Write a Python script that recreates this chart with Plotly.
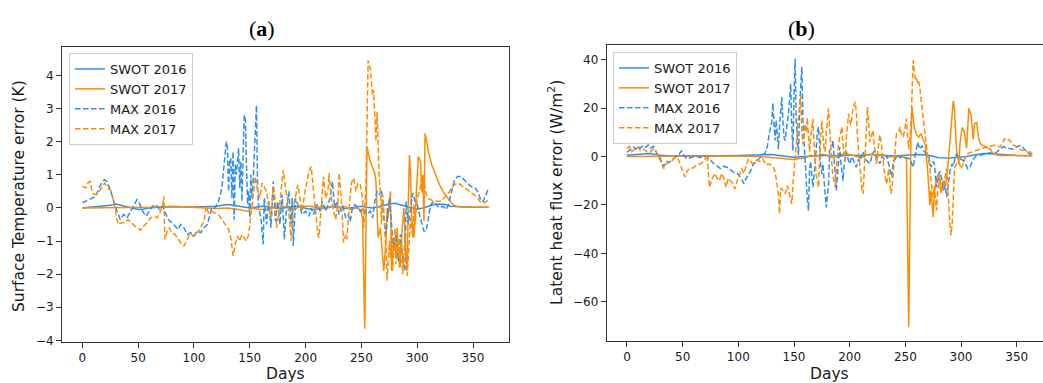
import plotly.graph_objects as go

# ---------------- data: (day, value) ----------------
# Panel (a): surface temperature error (K)
A_SWOT16 = [(0,0.0),(10,0.03),(20,0.05),(25,0.08),(30,0.12),(35,0.08),(40,0.03),(45,-0.02),(50,-0.05),(55,-0.03),
            (60,0.0),(70,0.03),(80,0.04),(90,0.03),(100,0.03),(110,0.04),(120,0.05),(125,0.08),(130,0.1),(135,0.08),
            (140,0.05),(145,0.03),(150,0.0),(155,0.02),(160,0.05),(165,0.04),(170,0.02),(175,-0.02),(180,0.0),(185,0.03),
            (190,0.05),(195,0.03),(200,-0.02),(205,-0.05),(210,-0.03),(215,0.0),(220,0.03),(225,0.05),(230,0.02),(235,-0.02),
            (240,0.0),(245,0.03),(250,0.05),(255,0.02),(260,0.0),(265,0.03),(270,0.08),(275,0.12),(280,0.14),(285,0.1),
            (290,0.05),(295,0.0),(300,-0.04),(305,0.0),(310,0.05),(315,0.1),(320,0.12),(325,0.1),(330,0.05),(340,0.03),
            (350,0.02),(364,0.02)]
A_SWOT17 = [(0,0.0),(20,0.0),(40,0.01),(60,0.02),(80,0.05),(90,0.04),(100,0.02),(110,0.0),(120,-0.02),(130,0.0),
            (140,-0.05),(148,-0.1),(152,0.0),(158,-0.05),(165,-0.05),(170,0.02),(175,0.0),(180,0.05),(185,0.0),(190,-0.05),
            (195,0.05),(200,0.05),(205,0.05),(210,0.0),(215,0.05),(220,0.0),(225,0.05),(230,0.0),(235,0.05),(240,-0.05),
            (245,0.0),(249,-0.05),(251,-0.3),(253,-3.65),(255,1.85),(258,1.4),(262,1.05),(263,0.8),(265,-0.9),(267,-0.6),
            (270,-1.9),(272,-1.0),(273,0.0),(274,-0.3),(276,0.5),(277,-1.9),(279,-0.9),(281,-1.5),(282,-0.6),(284,-1.8),
            (286,-0.8),(288,0.0),(290,-1.5),(291,-1.8),(292,0.2),(293,1.6),(294,1.0),(295,-0.3),(297,-0.9),(299,0.5),
            (301,1.55),(303,1.4),(304,0.5),(305,1.0),(306,-0.4),(307,2.25),(310,1.7),(313,1.3),(317,0.95),(320,0.7),
            (323,0.5),(326,0.35),(329,0.22),(332,0.1),(335,0.05),(340,0.03),(350,0.02),(364,0.02)]
A_MAX16 = [(0,0.15),(4,0.22),(8,0.3),(12,0.35),(15,0.6),(18,0.8),(20,0.85),(22,0.8),(25,0.55),(28,0.2),
           (31,-0.1),(34,-0.35),(37,-0.2),(40,-0.3),(43,-0.1),(46,0.05),(49,0.25),(51,0.15),(54,-0.1),(57,-0.25),
           (60,-0.1),(63,0.05),(66,0.1),(69,-0.05),(72,0.05),(74,-0.1),(77,-0.35),(80,-0.45),(83,-0.55),(86,-0.65),
           (88,-0.5),(91,-0.6),(94,-0.8),(97,-0.75),(100,-0.85),(103,-0.7),(106,-0.75),(109,-0.6),(112,-0.5),(114,-0.2),
           (116,0.0),(119,0.0),(122,0.2),(125,0.6),(127,1.2),(129,2.0),(130,1.8),(131,0.5),(132,1.4),(133,1.5),
           (134,0.3),(135,1.7),(136,-0.35),(137,1.3),(138,1.0),(139,1.5),(140,1.8),(141,0.6),(142,1.4),(143,0.2),
           (144,1.5),(145,2.8),(146,2.7),(147,1.0),(148,0.1),(149,0.5),(150,-0.3),(151,1.0),(152,0.3),(153,0.8),
           (154,1.6),(155,2.6),(156,3.1),(157,0.6),(158,0.0),(160,-0.3),(162,-1.1),(163,0.3),(165,-0.5),(167,0.2),
           (169,-0.6),(171,0.8),(173,-0.4),(175,0.2),(177,-0.5),(179,0.4),(181,-0.95),(183,0.0),(185,0.5),(187,-0.5),
           (188,0.3),(189,-1.15),(191,0.3),(193,0.1),(195,0.0),(197,-0.2),(200,-0.1),(203,-0.25),(205,0.0),(207,-0.2),
           (210,0.1),(213,-0.1),(215,0.2),(218,-0.1),(220,0.1),(222,0.3),(224,0.8),(226,0.0),(228,0.2),(230,-0.2),
           (233,0.1),(236,-0.3),(238,-0.2),(240,-0.4),(242,0.0),(244,0.1),(246,0.05),(249,-0.1),(252,0.0),(255,-0.2),
           (258,-0.1),(260,-0.3),(262,0.2),(264,0.5),(266,0.4),(268,0.55),(270,-0.3),(272,-0.8),(274,0.0),(275,0.3),
           (277,-0.5),(279,-1.3),(281,-0.8),(283,-1.6),(285,-0.8),(287,-1.5),(289,-1.9),(290,0.2),(292,-0.5),(294,0.0),
           (296,0.45),(298,0.2),(300,0.1),(302,-0.2),(304,-0.5),(306,-0.7),(308,-0.7),(310,-0.3),(312,0.1),(315,0.2),
           (317,0.1),(320,0.0),(323,0.05),(326,-0.05),(328,0.1),(330,0.4),(333,0.8),(336,0.95),(339,0.95),(342,0.85),
           (345,0.75),(348,0.65),(352,0.6),(355,0.45),(357,0.2),(359,0.2),(361,0.35),(364,0.6)]
A_MAX17 = [(0,0.65),(3,0.6),(5,0.75),(7,0.8),(9,0.45),(12,0.4),(14,0.45),(17,0.6),(20,0.75),(23,0.6),
           (26,0.5),(29,0.05),(32,-0.5),(35,-0.45),(38,-0.45),(41,-0.35),(44,-0.45),(47,-0.55),(50,-0.6),(52,-0.68),
           (55,-0.55),(58,-0.45),(61,-0.3),(64,-0.25),(67,-0.3),(70,-0.1),(72,0.1),(73,0.35),(74,-0.95),(76,-0.7),
           (78,-0.6),(80,-0.75),(83,-0.8),(86,-0.95),(89,-1.1),(91,-1.15),(94,-0.95),(97,-0.75),(99,-0.85),(101,-0.8),
           (104,-0.7),(106,-0.6),(109,-0.4),(111,0.05),(113,-0.15),(116,-0.1),(119,-0.15),(122,-0.2),(125,-0.35),(128,-0.5),
           (131,-0.65),(133,-0.9),(135,-1.45),(137,-1.1),(139,-0.85),(141,-1.0),(143,-0.8),(145,-0.9),(147,-1.0),(149,-0.8),
           (151,-0.2),(153,0.5),(155,0.95),(157,0.5),(159,0.3),(161,0.75),(163,0.6),(165,0.5),(167,0.0),(169,-0.3),
           (171,0.65),(173,0.2),(174,-0.6),(176,-0.15),(178,0.5),(180,1.15),(182,0.6),(184,0.2),(186,-0.55),(187,-1.0),
           (189,0.0),(191,0.4),(193,0.7),(195,0.3),(197,-0.1),(199,0.4),(201,0.7),(203,1.1),(205,1.25),(207,0.6),
           (209,0.0),(211,-0.8),(212,-0.9),(214,0.0),(216,0.95),(218,0.3),(220,0.5),(221,1.05),(223,0.3),(225,-0.1),
           (227,-0.35),(229,0.2),(230,1.05),(232,0.3),(233,-0.7),(234,-1.05),(236,-0.8),(237,-0.95),(239,0.0),(241,0.75),
           (243,0.9),(245,0.5),(247,0.75),(249,0.7),(251,0.3),(252,-0.6),(254,0.6),(255,2.5),(256,4.45),(258,4.2),
           (259,3.6),(260,3.4),(261,3.55),(262,2.6),(263,2.0),(264,2.9),(265,1.8),(266,0.9),(267,0.5),(268,-0.5),
           (269,0.4),(270,0.0),(271,-0.8),(272,-1.2),(273,-2.2),(275,-1.0),(276,-1.5),(277,-0.7),(278,-1.9),(279,-1.2),
           (280,-0.6),(281,-1.7),(282,-1.0),(283,-1.5),(284,-0.9),(285,-1.8),(286,-1.0),(287,-2.0),(288,-1.3),(289,-0.8),
           (290,-1.7),(291,-2.05),(292,-1.5),(293,-1.0),(294,-0.3),(295,-0.6),(296,-0.9),(297,0.1),(298,-0.5),(300,0.3),
           (302,0.5),(304,0.9),(306,1.0),(307,0.6),(309,0.3),(312,0.25),(315,0.2),(318,0.2),(321,0.2),(324,0.3),
           (327,0.4),(330,0.55),(333,0.7),(336,0.75),(339,0.7),(342,0.6),(345,0.55),(348,0.45),(351,0.4),(354,0.3),
           (357,0.15),(360,0.15),(362,0.2),(364,0.25)]

# Panel (b): latent heat flux error (W/m2)
B_SWOT16 = [(0,0.5),(10,1.0),(20,1.2),(30,0.5),(40,0.2),(50,0.3),(60,0.2),(80,0.3),(100,0.4),(120,0.6),
            (130,0.8),(140,0.2),(150,-0.3),(160,0.0),(170,0.3),(180,0.5),(190,0.2),(200,0.6),(210,0.3),(220,0.8),
            (230,0.5),(240,0.2),(250,0.5),(260,0.8),(270,0.6),(280,-0.5),(290,-0.6),(300,-0.3),(305,0.0),(310,0.5),
            (320,1.2),(330,1.0),(340,0.6),(350,0.4),(364,0.3)]
B_SWOT17 = [(0,0.0),(20,0.1),(40,0.0),(60,0.2),(80,0.3),(100,0.2),(120,0.0),(130,-0.5),(140,-1.0),(150,-1.2),
            (155,-0.8),(160,-0.5),(165,0.5),(170,0.0),(175,1.0),(180,0.5),(185,-0.5),(190,0.5),(195,1.2),(200,0.8),
            (205,0.0),(210,-0.5),(215,0.5),(220,1.0),(225,0.2),(230,0.5),(235,-0.3),(240,0.0),(245,0.2),(248,0.0),
            (251,-1.0),(253,-70.5),(255,8.0),(256,20.5),(258,12.0),(260,9.0),(262,8.0),(264,9.5),(266,6.5),(268,4.5),
            (270,-5.5),(272,-20.0),(273,-14.0),(275,-25.0),(276,-15.0),(278,-9.0),(280,-7.0),(282,-15.0),(284,-10.0),(286,-12.0),
            (288,-5.0),(290,6.5),(292,20.0),(293,23.0),(294,20.0),(296,2.0),(298,-3.0),(299,5.0),(301,12.0),(303,10.0),
            (305,3.5),(307,20.0),(309,17.0),(311,7.0),(312,13.5),(314,14.0),(316,7.0),(318,5.0),(320,4.5),(323,4.0),
            (326,3.2),(329,1.2),(332,0.6),(335,0.4),(345,0.4),(355,0.4),(364,0.4)]
B_MAX16 = [(0,1.8),(3,3.0),(6,3.9),(8,3.0),(10,4.2),(12,3.5),(15,4.6),(17,3.8),(19,4.8),(21,3.5),
           (24,4.2),(27,1.2),(30,-0.9),(33,-4.1),(36,-2.0),(38,-2.5),(40,-1.5),(43,-0.5),(46,0.5),(49,2.3),
           (51,0.5),(54,-1.0),(57,-0.5),(60,0.0),(63,0.0),(66,-0.5),(69,0.2),(72,-0.3),(75,-1.5),(78,-3.0),
           (81,-4.0),(84,-5.0),(87,-4.0),(90,-4.5),(93,-5.5),(96,-6.5),(99,-7.0),(101,-8.0),(103,-9.5),(105,-11.2),
           (107,-9.0),(109,-7.7),(111,-6.0),(113,-3.6),(115,-2.5),(117,-1.5),(120,-0.3),(122,1.0),(124,1.2),(126,4.0),
           (128,10.0),(130,14.0),(131,22.0),(132,12.0),(133,6.6),(134,15.0),(135,8.0),(136,3.0),(137,12.0),(138,17.6),
           (139,24.5),(140,15.0),(141,8.0),(142,6.6),(143,12.0),(144,14.0),(145,17.6),(146,25.0),(147,30.0),(148,12.0),
           (149,2.5),(150,25.0),(151,40.5),(152,15.0),(153,8.0),(154,0.5),(155,20.0),(156,30.0),(157,37.0),(158,15.0),
           (159,5.0),(160,-1.6),(161,-10.0),(162,-18.0),(163,-22.3),(164,-5.0),(165,-2.0),(166,-8.0),(167,-12.7),(169,-3.0),
           (170,5.0),(171,10.0),(172,12.2),(173,2.0),(174,-4.0),(175,-7.2),(176,-3.0),(177,-10.0),(178,-15.0),(179,-21.0),
           (180,-16.0),(181,-12.0),(182,2.5),(184,4.0),(185,6.6),(186,0.0),(187,-8.0),(188,-14.0),(189,-8.0),(190,-3.0),
           (191,3.9),(192,-2.0),(193,-8.0),(194,-10.0),(195,-4.0),(197,2.0),(199,-2.0),(200,-3.0),(202,0.0),(203,-1.0),
           (205,-3.0),(206,-4.4),(208,-1.0),(209,-2.0),(211,1.0),(212,2.0),(214,-1.0),(216,-2.0),(218,-3.0),(220,0.0),
           (222,2.5),(224,0.0),(226,-2.0),(227,-3.0),(229,0.0),(231,-1.0),(233,0.5),(235,-3.0),(237,-7.5),(238,-8.5),
           (239,-2.0),(241,-1.0),(243,0.5),(245,-0.5),(248,0.0),(251,-0.5),(254,-1.0),(257,-4.4),(259,0.0),(261,5.9),
           (263,3.0),(265,4.5),(267,2.0),(269,1.0),(271,0.0),(273,-4.4),(275,-2.0),(276,-3.0),(278,-12.7),(280,-8.0),
           (281,-6.0),(283,-10.0),(284,-14.0),(286,-12.0),(287,-16.8),(289,-10.0),(290,-6.0),(292,-3.0),(293,-4.0),(295,0.0),
           (296,1.0),(298,-0.5),(300,-1.0),(302,-1.7),(304,-3.0),(306,-5.0),(308,-4.5),(310,-2.0),(312,-0.5),(314,0.4),
           (317,0.5),(320,0.8),(323,1.1),(326,1.5),(329,1.2),(332,1.8),(335,3.0),(338,4.1),(341,3.5),(344,3.2),
           (347,3.0),(350,3.9),(352,4.5),(354,4.6),(356,3.5),(358,2.5),(360,1.5),(362,1.0),(364,1.5)]
B_MAX17 = [(0,3.2),(2,4.2),(4,2.0),(6,2.5),(8,3.5),(10,3.9),(12,2.5),(15,3.0),(18,2.0),(21,1.8),
           (23,3.0),(25,3.2),(28,0.4),(31,-3.0),(33,-5.0),(35,-3.0),(38,-2.5),(41,-1.5),(43,-0.3),(46,-1.0),
           (48,-3.5),(50,-5.8),(52,-8.5),(54,-6.0),(56,-5.0),(58,-5.0),(61,-4.0),(63,-3.5),(66,-3.0),(69,-2.0),
           (71,-0.3),(72,1.0),(74,-12.7),(76,-10.0),(77,-8.6),(79,-7.0),(81,-9.0),(83,-10.0),(85,-7.0),(87,-9.0),
           (89,-12.7),(91,-9.0),(93,-10.0),(95,-11.0),(97,-13.4),(99,-10.0),(101,-8.0),(103,-5.0),(105,-7.0),(107,-4.0),
           (109,-1.0),(111,-2.0),(113,-3.0),(116,-1.5),(119,-2.0),(122,-1.0),(125,-3.6),(127,-3.0),(130,-3.7),(132,-5.0),
           (133,-6.3),(135,-12.0),(136,-16.0),(137,-23.7),(138,-13.0),(140,-14.0),(142,-15.4),(144,-12.0),(145,-14.0),(147,-17.0),
           (148,-19.6),(149,-12.0),(150,-6.0),(151,-2.0),(152,3.0),(153,10.0),(154,16.2),(155,20.0),(156,25.2),(157,10.0),
           (158,5.0),(159,8.0),(160,13.5),(161,10.0),(162,16.0),(163,8.0),(164,2.0),(165,8.0),(167,15.6),(168,5.0),
           (169,-2.0),(170,-8.0),(172,-12.7),(173,0.0),(175,14.9),(176,8.0),(177,3.0),(178,2.0),(179,10.0),(181,19.8),
           (182,10.0),(183,2.0),(184,-3.0),(185,-8.0),(187,-12.7),(188,-5.0),(189,2.0),(190,5.0),(191,8.0),(193,12.2),
           (194,5.0),(195,0.0),(196,-2.0),(197,8.0),(199,17.6),(200,15.0),(201,13.0),(202,16.0),(203,20.0),(205,22.6),
           (206,18.0),(207,8.0),(208,2.0),(209,-3.0),(210,-10.0),(211,-14.0),(212,-15.4),(213,-8.0),(214,2.0),(215,12.0),
           (216,20.4),(217,14.0),(218,6.0),(219,8.0),(221,10.8),(222,5.0),(223,0.0),(224,-3.0),(226,5.0),(227,9.0),
           (228,7.0),(229,2.0),(230,-2.0),(231,-6.0),(233,-11.3),(234,-9.0),(235,-5.0),(236,-12.0),(237,-15.4),(238,-13.0),
           (239,-8.0),(240,0.0),(242,9.4),(244,10.0),(245,12.2),(246,10.0),(248,8.0),(249,10.0),(251,15.6),(252,8.0),
           (253,3.0),(255,12.0),(256,30.0),(257,39.7),(258,36.0),(259,32.0),(260,32.8),(261,30.0),(262,31.0),(263,28.6),
           (264,24.0),(265,20.0),(266,14.9),(267,10.0),(268,6.0),(269,2.5),(270,0.0),(271,-2.0),(272,-4.4),(273,-10.0),
           (274,-14.0),(275,-16.8),(276,-12.0),(277,-18.0),(278,-22.3),(279,-15.0),(280,-10.0),(281,-8.0),(282,-12.0),(284,-14.0),
           (285,-10.0),(287,-5.0),(288,-12.0),(289,-21.0),(290,-28.0),(291,-32.5),(292,-28.0),(293,-18.0),(294,-5.0),(296,-3.0),
           (298,-2.0),(300,-5.0),(302,-3.0),(305,1.1),(308,1.5),(311,2.0),(314,2.5),(317,3.0),(320,3.5),(323,3.9),
           (326,4.0),(329,4.6),(332,4.5),(335,3.9),(337,5.5),(339,7.3),(341,6.5),(343,7.0),(344,6.6),(346,5.0),
           (348,4.5),(350,4.0),(353,3.2),(355,2.5),(357,2.8),(359,2.0),(361,1.5),(363,2.5),(364,2.0)]

SERIES_NAMES = ["SWOT 2016", "SWOT 2017", "MAX 2016", "MAX 2017"]
X_TICKS = [0, 50, 100, 150, 200, 250, 300, 350]
A_Y_TICKS = [-4, -3, -2, -1, 0, 1, 2, 3, 4]
B_Y_TICKS = [-60, -40, -20, 0, 20, 40]

# ---------------- styling ----------------
W, H = 1043, 383
BLUE = "#2f8ff0"
ORANGE = "#ff8c00"
FONT = "DejaVu Sans"
TXT = "#1a1a1a"
AX = "#333333"
DASH = "5.5px,2.5px"

styles = [(BLUE, "solid"), (ORANGE, "solid"), (BLUE, DASH), (ORANGE, DASH)]

fig = go.Figure()

def add_panel(series, xa, ya, legend):
    for data, name, (col, dash) in zip(series, SERIES_NAMES, styles):
        fig.add_trace(go.Scatter(
            x=[d for d, _ in data], y=[v for _, v in data], mode="lines", name=name,
            line=dict(color=col, width=1.5, dash=dash), xaxis=xa, yaxis=ya, legend=legend,
        ))

add_panel([A_SWOT16, A_SWOT17, A_MAX16, A_MAX17], "x", "y", "legend")
add_panel([B_SWOT16, B_SWOT17, B_MAX16, B_MAX17], "x2", "y2", "legend2")

def px_x(p):
    return p / W

def px_y(p):
    return (H - p) / H

axis_common = dict(showgrid=False, zeroline=False, showline=True, linecolor=AX, linewidth=1,
                   ticks="outside", ticklen=5, tickwidth=1, tickcolor=AX, automargin=False,
                   tickfont=dict(family=FONT, size=12, color=TXT))

fig.update_layout(
    template="none",
    width=W, height=H, margin=dict(l=0, r=0, t=0, b=0, pad=0, autoexpand=False),
    paper_bgcolor="white", plot_bgcolor="white",
    xaxis=dict(domain=[px_x(62), px_x(509)], range=[-18.2, 382.2], tickvals=X_TICKS,
               anchor="y", mirror=True, **axis_common),
    yaxis=dict(domain=[px_y(342), px_y(47)], range=[-4.05, 4.86], tickvals=A_Y_TICKS,
               anchor="x", mirror=True, **axis_common),
    xaxis2=dict(domain=[px_x(606.7), 1.0], range=[-18.2, 373.6], tickvals=X_TICKS,
                anchor="y2", mirror=True, **axis_common),
    yaxis2=dict(domain=[px_y(340.7), px_y(45)], range=[-76.05, 46.05], tickvals=B_Y_TICKS,
                anchor="x2", mirror=False, **axis_common),
    legend=dict(x=px_x(69), y=px_y(53), xanchor="left", yanchor="top",
                bgcolor="rgba(255,255,255,0.85)", bordercolor="#cccccc", borderwidth=1,
                font=dict(family=FONT, size=13, color=TXT), tracegroupgap=0),
    legend2=dict(x=px_x(613), y=px_y(52), xanchor="left", yanchor="top",
                 bgcolor="rgba(255,255,255,0.85)", bordercolor="#cccccc", borderwidth=1,
                 font=dict(family=FONT, size=13, color=TXT), tracegroupgap=0),
    showlegend=True,
)

def note(text, x, y, size, family=FONT, angle=0, yanchor="middle", color=TXT):
    return dict(text=text, x=px_x(x), y=px_y(y), xref="paper", yref="paper",
                xanchor="center", yanchor=yanchor, textangle=angle, showarrow=False,
                font=dict(family=family, size=size, color=color))

fig.update_layout(annotations=[
    note("(<b>a</b>)", 262, 28, 22, family="Liberation Serif", color="#000"),
    note("(<b>b</b>)", 801, 28, 22, family="Liberation Serif", color="#000"),
    note("Days", 285.5, 374, 15.5),
    note("Days", 829.5, 374, 15.5),
    note("Surface Temperature error (K)", 19, 196, 15.5, angle=-90),
    note("Latent heat flux error (W/m<sup>2</sup>)", 555, 193, 15.5, angle=-90),
])

fig.write_html("out.html", config={"displayModeBar": False},
               post_script="document.body.style.margin='0px';document.body.style.overflow='hidden';")
